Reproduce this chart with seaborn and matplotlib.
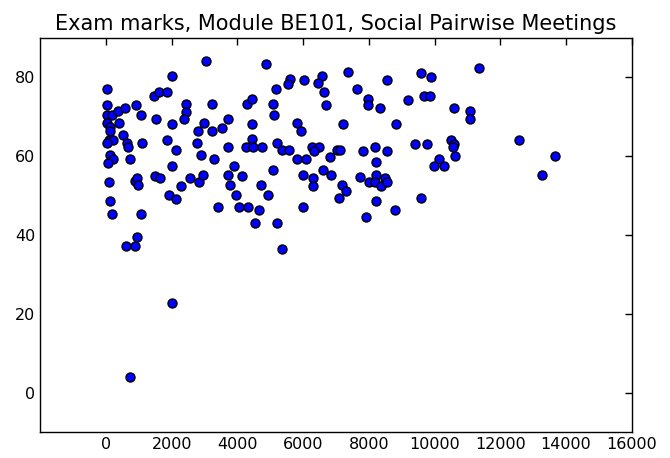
import matplotlib
matplotlib.use("Agg")
import matplotlib.pyplot as plt
import seaborn as sns
import pandas as pd

# meetings attended (x) vs exam mark (y)
meetings = [
    30, 30, 30, 180, 380, 580, 900, 1060, 30, 400, 130, 130, 530, 80, 230, 30,
    635, 685, 1100, 130, 230, 60, 735, 80, 130, 190, 1060, 600, 890, 940, 735,
    870, 940, 990,
    3050, 2020, 1475, 1600, 1850, 2450, 2450, 2360, 3240, 1520, 2020, 2995,
    2810, 3240, 3520, 3720, 1850, 2760, 2120, 3720, 4250, 2900, 3300, 2020,
    3900, 1500, 1650, 2290, 2560, 2830, 2950, 3720, 3775, 3950, 4130, 1920,
    2120, 3400, 4050, 2020, 4300,
    4870, 7370, 8550, 5600, 5550, 6030, 6560, 6460, 5170, 7640, 6640, 4430,
    5070, 5110, 6690, 7980, 7980, 8350, 4430, 5820, 5930, 7220, 4430, 4480,
    4760, 5190, 5350, 5580, 6260, 6480, 6330, 6815, 7020, 7120, 5820, 6085,
    7810, 8180, 8540, 8230, 5070, 6000, 6290, 6590, 6840, 7730, 8230, 8490,
    4710, 4940, 4330, 4660, 4535, 5190, 5350, 6310, 5985, 7170, 7300, 7100,
    8010, 8180, 8355, 8540, 8230, 7910,
    11350, 9580, 9900, 9200, 9680, 9850, 10590, 11070, 11070, 8840, 9410,
    9780, 10490, 10590, 10560, 10630, 10130, 9985, 10290, 12580, 13650, 13280,
    9580, 8780,
]
marks = [
    77, 73, 70.5, 70.5, 71.5, 72.3, 73, 70.5, 68.4, 68.4, 67.5, 66.3, 65.5,
    64.2, 64.2, 63.3, 63.3, 62.3, 63.3, 60.2, 59.3, 58.2, 59.3, 53.5, 48.5,
    45.3, 45.3, 37.3, 37.3, 39.6, 4, 53.6, 54.5, 52.6,
    84.2, 80.3, 75.4, 76.2, 76.2, 73.3, 71.1, 69.5, 73.3, 69.5, 68.2, 68.4,
    66.5, 66.5, 67.2, 69.5, 64.2, 63.3, 61.6, 62.3, 62.3, 60.2, 59.3, 57.4,
    57.4, 55, 54.5, 52.4, 54.5, 53.4, 55.2, 55.2, 52.6, 50.2, 55, 50.2,
    49.2, 47.1, 47.1, 22.6, 73.2,
    83.4, 81.3, 79.3, 79.6, 78.3, 79.3, 80.4, 78.5, 77.1, 77.1, 76.2, 74.5,
    73.3, 70.5, 73.1, 74.5, 73.1, 72.3, 68.2, 68.4, 66.3, 68.2, 64.4, 62.3,
    62.3, 63.3, 61.6, 61.6, 62.3, 62.3, 61.3, 59.9, 61.6, 61.6, 59.3, 59.3,
    61.4, 62.3, 61.4, 58.5, 56.6, 55.1, 54.5, 56.6, 55.1, 54.7, 55.1, 54.5,
    52.6, 50.2, 47.1, 46.3, 43.1, 43.1, 36.4, 52.4, 47.1, 52.6, 51.1, 49.4,
    53.4, 53.4, 52.4, 53.4, 48.5, 44.6,
    82.5, 81, 80.2, 74.3, 75.4, 75.4, 72.3, 71.4, 69.5, 68.2, 63.1,
    63.1, 64.2, 63.1, 62.3, 60.1, 59.3, 57.4, 57.4, 64.2, 60.1, 55.2,
    49.4, 46.3,
]
x_ticks = list(range(0, 16001, 2000))
y_ticks = [0, 20, 40, 60, 80]

df = pd.DataFrame({"meetings": meetings, "mark": marks})

sns.set_style("white")
plt.rcParams['font.family'] = ['DejaVu Sans']

fig = plt.figure(figsize=(6.7, 4.58), dpi=100)
ax = fig.add_axes([0.06, 0.057, 0.883, 0.86])
sns.scatterplot(data=df, x="meetings", y="mark", ax=ax, color="#0000ff",
                edgecolor="black", linewidth=1, s=42, zorder=3)

ax.set_xlim(-2000, 16000)
ax.set_ylim(-10, 90)
ax.set_xticks(x_ticks)
ax.set_yticks(y_ticks)
ax.set_xlabel("")
ax.set_ylabel("")
ax.set_title("Exam marks, Module BE101, Social Pairwise Meetings",
             fontsize=15, pad=6, color="black")
ax.tick_params(direction="in", top=True, right=True, length=5, width=1,
               labelsize=11.5, colors="black")
for sp in ax.spines.values():
    sp.set_visible(True)
    sp.set_color("black")
    sp.set_linewidth(1)

fig.savefig("out.png", dpi=100)
